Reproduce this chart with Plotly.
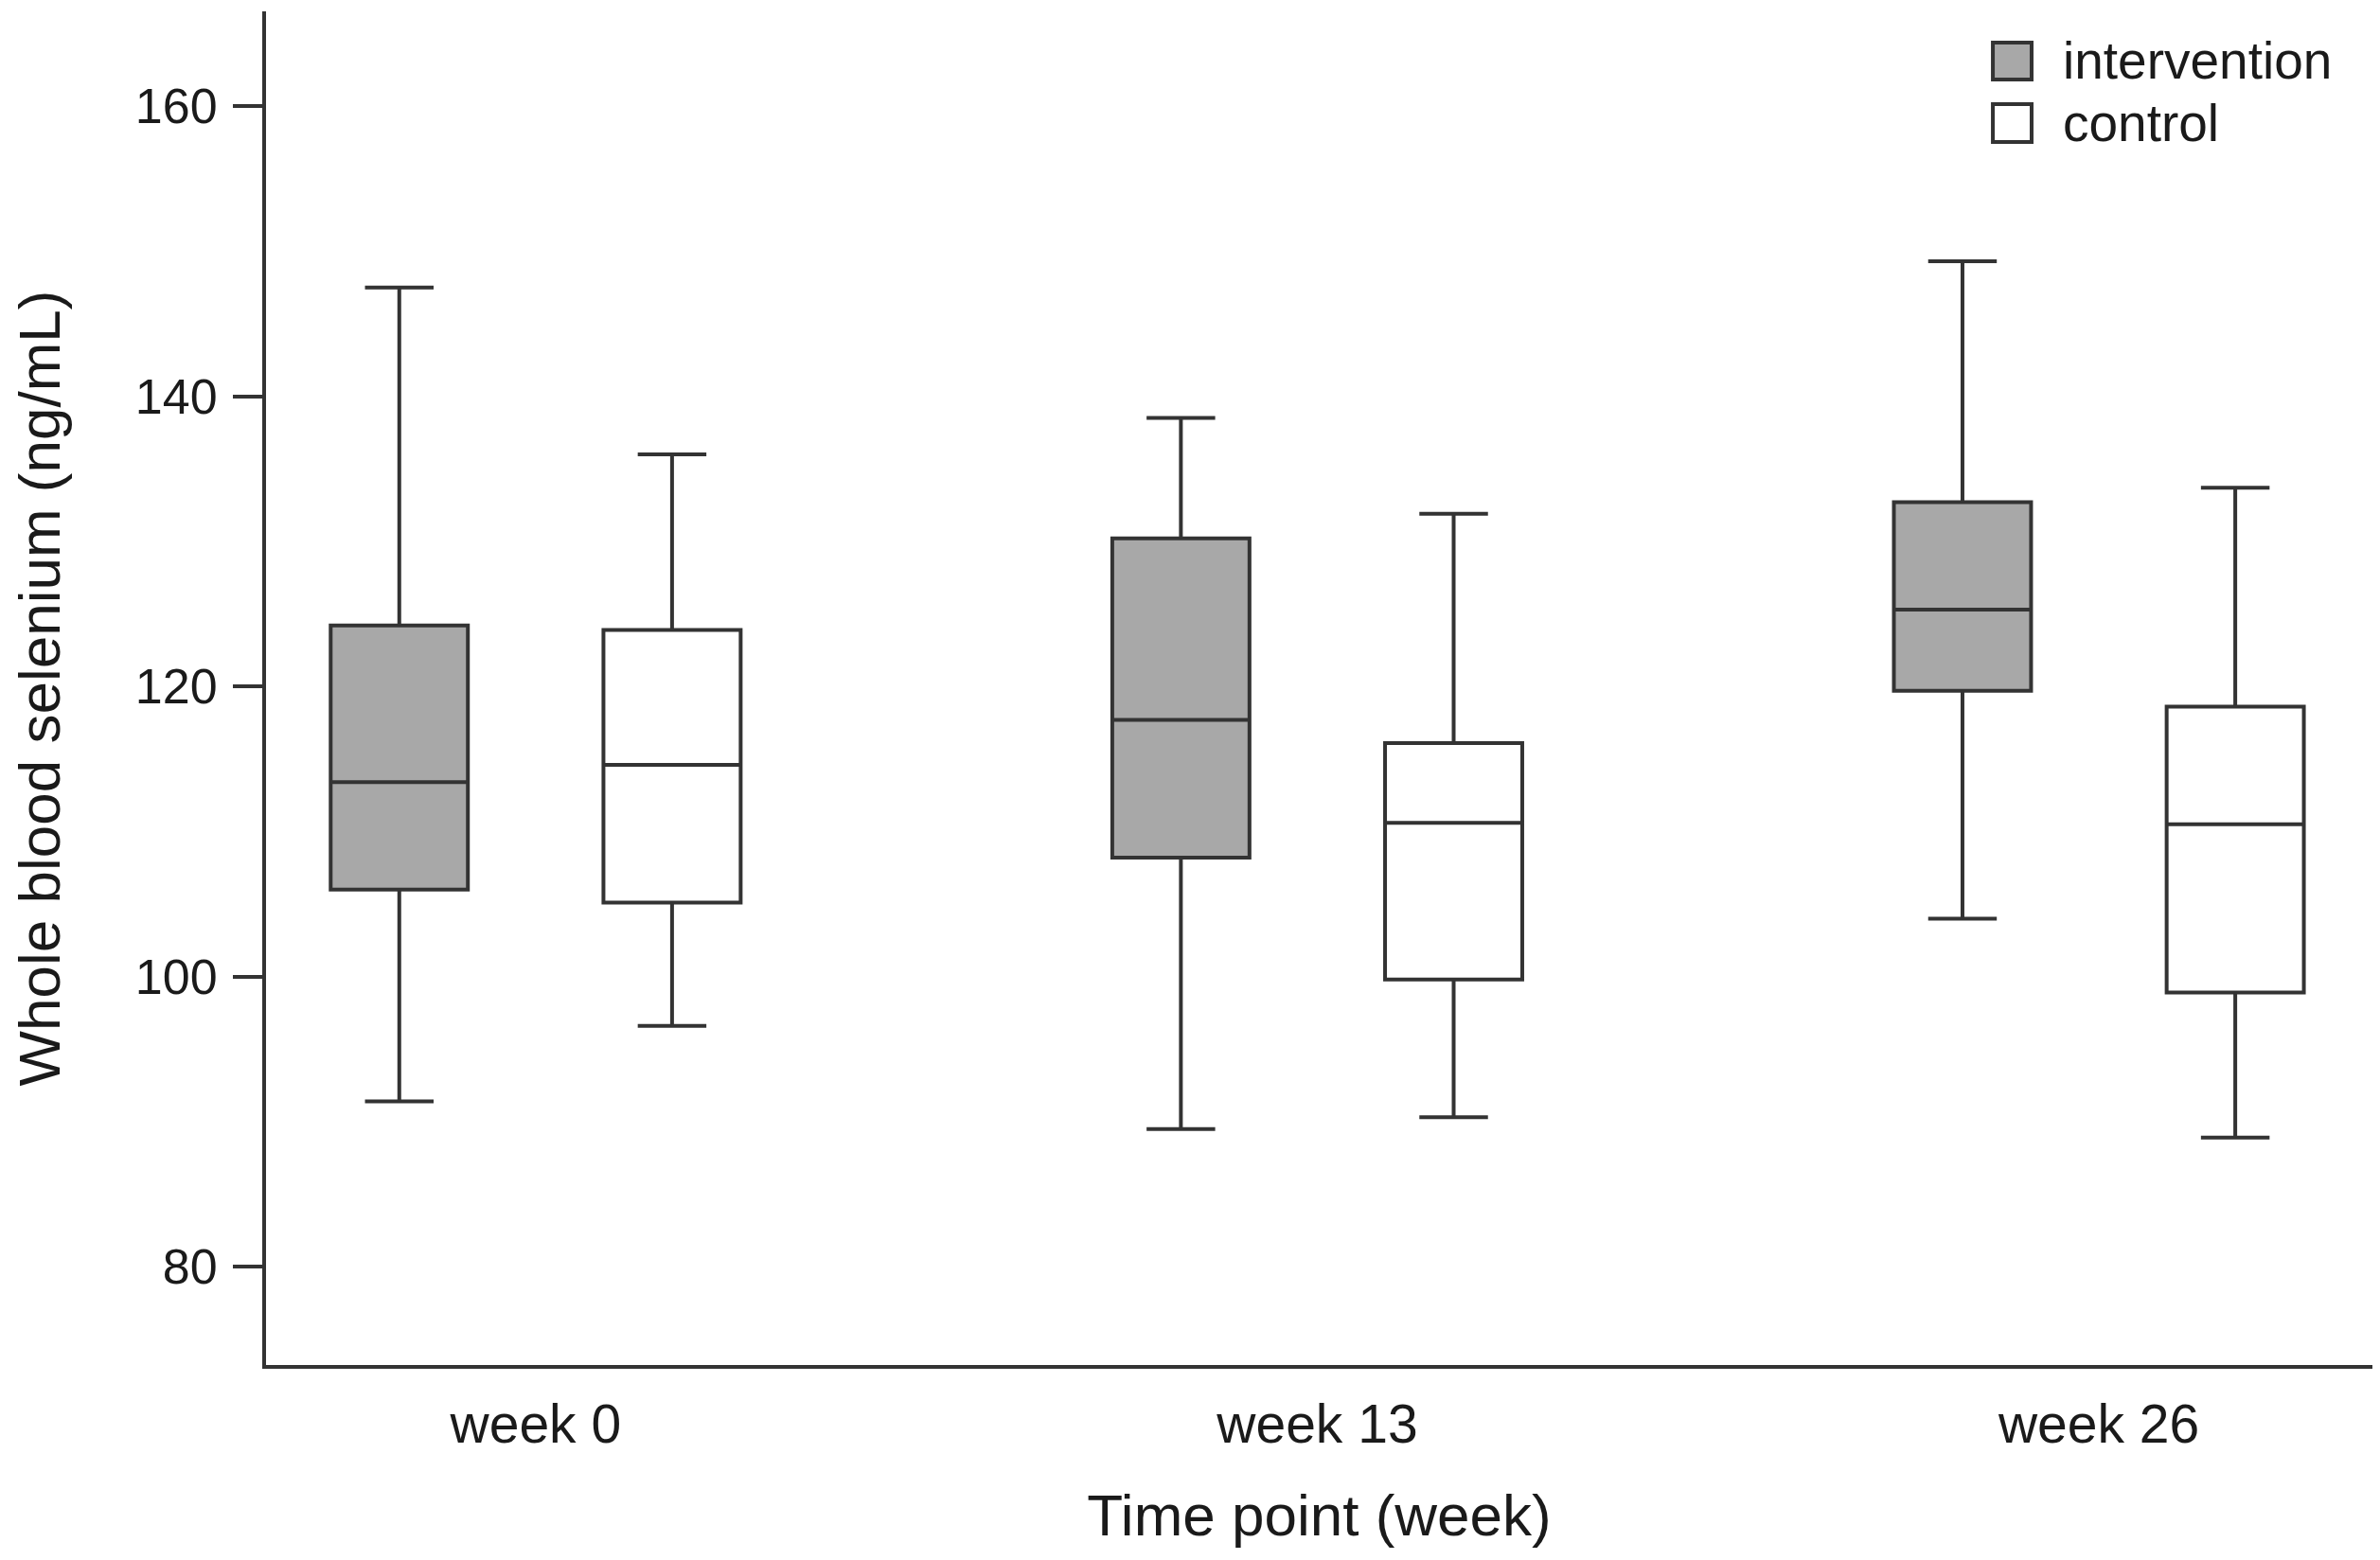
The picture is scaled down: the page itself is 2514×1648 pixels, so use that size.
import plotly.graph_objects as go

# ---- data ----
categories = ["week 0", "week 13", "week 26"]
series_names = ["intervention", "control"]

intervention_lower = [91.4, 89.5, 104.0]
intervention_q1 = [106.0, 108.2, 119.7]
intervention_median = [113.4, 117.7, 125.3]
intervention_q3 = [124.2, 130.2, 132.7]
intervention_upper = [147.5, 138.5, 149.3]

control_lower = [96.6, 90.3, 88.9]
control_q1 = [105.1, 99.8, 98.9]
control_median = [114.6, 110.6, 110.5]
control_q3 = [123.9, 116.1, 118.6]
control_upper = [136.0, 131.9, 133.7]

y_tick_values = [80, 100, 120, 140, 160]

# ---- styling ----
FONT = "Liberation Sans, Arial, sans-serif"
TEXT = "#1a1a1a"
LINE = "#333333"
GRAY = "#a8a8a8"
WHITE = "#ffffff"
fills = [GRAY, WHITE]

fig = go.Figure()
stats = [
    (intervention_lower, intervention_q1, intervention_median, intervention_q3, intervention_upper),
    (control_lower, control_q1, control_median, control_q3, control_upper),
]
for name, fill, (lo, q1, med, q3, hi) in zip(series_names, fills, stats):
    fig.add_trace(go.Box(
        name=name,
        x=categories,
        lowerfence=lo, q1=q1, median=med, q3=q3, upperfence=hi,
        boxpoints=False,
        fillcolor=fill,
        line=dict(color=LINE, width=4),
        whiskerwidth=0.5,
        showlegend=False,
        hoverinfo="skip",
    ))

# manual legend (large square swatches like the reference)
legend_rows = [(series_names[0], GRAY, 0.9497, 0.9769), (series_names[1], WHITE, 0.9035, 0.9315)]
for label, fill, y0, y1 in legend_rows:
    fig.add_shape(type="rect", xref="paper", yref="paper",
                  x0=0.8198, x1=0.8382, y0=y0, y1=y1,
                  fillcolor=fill, line=dict(color=LINE, width=4))
    fig.add_annotation(text=label, xref="paper", yref="paper",
                       x=0.8521, y=(y0 + y1) / 2, xanchor="left", yanchor="middle",
                       showarrow=False, font=dict(family=FONT, size=55, color=TEXT))

fig.update_layout(
    width=2514, height=1648,
    margin=dict(l=281, r=8, t=12, b=206),
    paper_bgcolor="white", plot_bgcolor="white",
    boxmode="group", boxgap=0.302, boxgroupgap=0.497,
    font=dict(family=FONT, color=TEXT),
    xaxis=dict(
        type="category", categoryorder="array", categoryarray=categories,
        range=[-0.345, 2.350],
        showline=True, linecolor=LINE, linewidth=4, mirror=False,
        ticks="", showgrid=False, zeroline=False,
        tickfont=dict(family=FONT, size=57, color=TEXT),
        ticklabelstandoff=10,
        title=dict(text="Time point (week)", font=dict(family=FONT, size=62, color=TEXT), standoff=44),
    ),
    yaxis=dict(
        range=[73.23, 166.53],
        tickmode="array", tickvals=y_tick_values,
        ticktext=[str(v) for v in y_tick_values],
        showline=True, linecolor=LINE, linewidth=4,
        ticks="outside", ticklen=31, tickwidth=4, tickcolor=LINE,
        showgrid=False, zeroline=False,
        tickfont=dict(family=FONT, size=52, color=TEXT),
        ticklabelstandoff=6,
        title=dict(text="Whole blood selenium (ng/mL)", font=dict(family=FONT, size=62, color=TEXT), standoff=60),
    ),
)

fig.write_html("out.html", config={"displayModeBar": False},
               post_script="document.body.style.margin='0';")
